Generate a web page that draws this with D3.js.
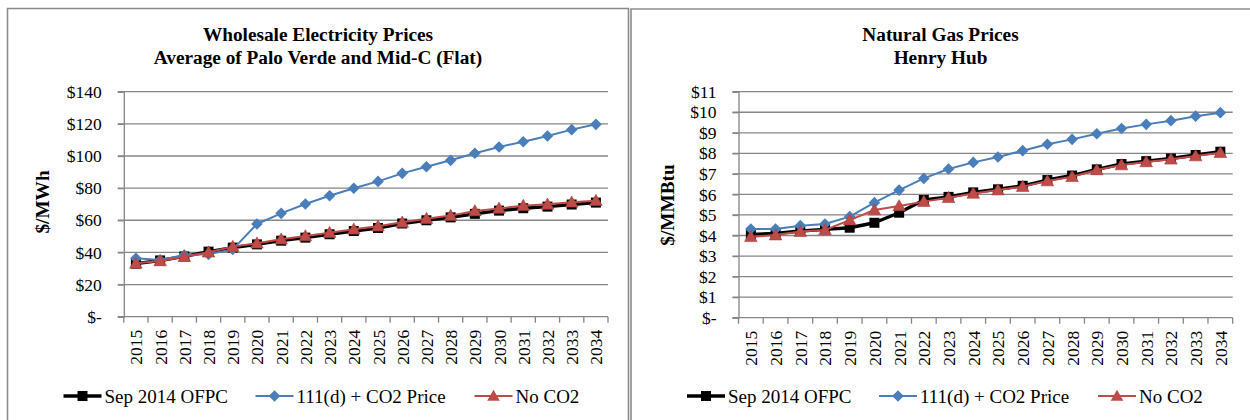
<!DOCTYPE html>
<html>
<head>
<meta charset="utf-8">
<script src="https://cdn.jsdelivr.net/npm/d3@7"></script>
<style>
  html, body { margin: 0; padding: 0; background: #fff; }
  svg { display: block; font-family: "Liberation Serif", "Times New Roman", serif; }
</style>
</head>
<body>
<svg id="chart" width="1250" height="420"></svg>
<script>
// ---------- DATA ----------
const years = ["2015","2016","2017","2018","2019","2020","2021","2022","2023","2024",
               "2025","2026","2027","2028","2029","2030","2031","2032","2033","2034"];
const seriesNames = ["Sep 2014 OFPC", "111(d) + CO2 Price", "No CO2"];

// Wholesale electricity ($/MWh)
const elecOFPC  = [33.0, 35.0, 37.5, 40.5, 43.0, 45.0, 47.3, 49.2, 51.3, 53.3, 55.2, 58.0, 60.0, 61.8, 64.0, 66.0, 67.5, 68.5, 69.8, 71.0];
const elec111d  = [36.3, 35.3, 38.4, 38.8, 41.9, 57.7, 64.3, 70.1, 75.3, 79.9, 84.2, 89.2, 93.3, 97.3, 101.7, 105.6, 108.9, 112.4, 116.4, 119.7];
const elecNoCO2 = [33.2, 34.7, 37.3, 40.1, 43.6, 45.7, 48.2, 50.2, 52.3, 54.4, 56.3, 58.7, 61.0, 62.9, 65.8, 67.4, 69.1, 69.9, 71.2, 72.2];
const elecTicks = [0, 20, 40, 60, 80, 100, 120, 140];

// Henry Hub natural gas ($/MMBtu)
const gasOFPC  = [4.05, 4.10, 4.22, 4.30, 4.38, 4.62, 5.11, 5.73, 5.88, 6.10, 6.25, 6.42, 6.70, 6.92, 7.22, 7.48, 7.62, 7.75, 7.92, 8.08];
const gas111d  = [4.32, 4.32, 4.48, 4.56, 4.92, 5.60, 6.21, 6.78, 7.24, 7.56, 7.82, 8.13, 8.44, 8.68, 8.95, 9.21, 9.41, 9.59, 9.81, 9.98];
const gasNoCO2 = [3.94, 4.02, 4.19, 4.27, 4.75, 5.24, 5.44, 5.65, 5.84, 6.05, 6.21, 6.38, 6.65, 6.86, 7.19, 7.43, 7.58, 7.71, 7.87, 8.03];
const gasTicks = [0, 1, 2, 3, 4, 5, 6, 7, 8, 9, 10, 11];

// ---------- STYLE ----------
const styles = [
  { color: "#000000", width: 3.4, marker: "square" },
  { color: "#4a7ebb", width: 2,   marker: "diamond" },
  { color: "#be4b48", width: 2,   marker: "triangle" }
];
const gridColor = "#868686";
const svg = d3.select("#chart");

function markerPath(type) {
  if (type === "square")  return "M-5,-5H5V5H-5Z";
  if (type === "diamond") return "M0,-5.8L5.8,0L0,5.8L-5.8,0Z";
  return "M0,-6.3L6.3,4.8L-6.3,4.8Z";
}

function drawPanel(cfg) {
  const g = svg.append("g");
  g.append("path")
    .attr("d", `M${cfg.px},420V${cfg.py}H${cfg.pRight}` + (cfg.pRight < 1250 ? `V420` : ""))
    .attr("fill", "none").attr("stroke", "#8a8a8a").attr("stroke-width", 1.6);

  const x = d3.scaleBand().domain(years).range([cfg.x0, cfg.x1]);
  const y = d3.scaleLinear().domain([0, cfg.ymax]).range([cfg.yb, cfg.yt]);

  // gridlines
  g.append("g").selectAll("line").data(cfg.ticks.filter(t => t > 0)).join("line")
    .attr("x1", cfg.x0 - 6).attr("x2", cfg.x1)
    .attr("y1", d => y(d)).attr("y2", d => y(d))
    .attr("stroke", gridColor).attr("stroke-width", 1.3);

  // y axis
  const ya = g.append("g").attr("transform", `translate(${cfg.x0},0)`)
    .call(d3.axisLeft(y).tickValues(cfg.ticks).tickSize(6).tickPadding(16)
      .tickFormat(d => d === 0 ? "$-" : "$" + d));
  ya.attr("font-family", null);
  ya.select(".domain").attr("stroke", gridColor).attr("stroke-width", 1.3);
  ya.selectAll(".tick line").attr("stroke", gridColor).attr("stroke-width", 1.3);
  ya.selectAll(".tick text").attr("font-size", "17.5px").attr("fill", "#000");

  // x axis
  const xa = g.append("g").attr("transform", `translate(0,${cfg.yb})`)
    .call(d3.axisBottom(x).tickSize(0).tickPadding(0));
  xa.select(".domain").remove();
  xa.selectAll(".tick text").remove();
  g.append("line").attr("x1", cfg.x0 - 6).attr("x2", cfg.x1)
    .attr("y1", cfg.yb).attr("y2", cfg.yb)
    .attr("stroke", gridColor).attr("stroke-width", 1.3);
  const bounds = years.map(d => x(d)).concat([cfg.x1]);
  g.append("g").selectAll("line").data(bounds).join("line")
    .attr("x1", d => d).attr("x2", d => d)
    .attr("y1", cfg.yb).attr("y2", cfg.yb + 6)
    .attr("stroke", gridColor).attr("stroke-width", 1.3);
  g.append("g").selectAll("text").data(years).join("text")
    .attr("transform", d => `translate(${x(d) + x.bandwidth() / 2 + 6.5},${cfg.yb + 13}) rotate(-90)`)
    .attr("text-anchor", "end")
    .attr("font-size", "17.5px")
    .text(d => d);

  // series
  const line = d3.line().x((d, i) => x(years[i]) + x.bandwidth() / 2).y(d => y(d));
  cfg.series.forEach((vals, si) => {
    const st = styles[si];
    g.append("path").datum(vals).attr("d", line)
      .attr("fill", "none").attr("stroke", st.color).attr("stroke-width", st.width)
      .attr("stroke-linejoin", "round");
    g.append("g").selectAll("path").data(vals).join("path")
      .attr("transform", (d, i) => `translate(${x(years[i]) + x.bandwidth() / 2},${y(d)})`)
      .attr("d", markerPath(st.marker))
      .attr("fill", st.color)
      .attr("stroke", si === 2 ? "#a8403d" : "none").attr("stroke-width", 0.6);
  });

  // title
  const cx = (cfg.px + cfg.pRight) / 2;
  const t = g.append("text").attr("text-anchor", "middle")
    .attr("font-weight", "bold").attr("font-size", "19.3px");
  t.append("tspan").attr("x", cx).attr("y", 41).text(cfg.title1);
  t.append("tspan").attr("x", cx).attr("y", 63.5).text(cfg.title2);

  // y axis title
  g.append("text")
    .attr("transform", `translate(${cfg.ytx},${cfg.yty}) rotate(-90)`)
    .attr("text-anchor", "middle").attr("font-weight", "bold").attr("font-size", "19.3px")
    .text(cfg.ytitle);

  // legend
  const lx = [56, 248, 467];
  seriesNames.forEach((name, si) => {
    const st = styles[si];
    const x0 = cfg.px + lx[si];
    const ly = 396;
    g.append("line").attr("x1", x0).attr("x2", x0 + 38).attr("y1", ly).attr("y2", ly)
      .attr("stroke", st.color).attr("stroke-width", st.width);
    g.append("path").attr("transform", `translate(${x0 + 19},${ly})`)
      .attr("d", markerPath(st.marker)).attr("fill", st.color);
    g.append("text").attr("x", x0 + 41).attr("y", ly + 6.5)
      .attr("font-size", "19px").text(name);
  });
}

drawPanel({
  px: 7.5, py: 8.5, pRight: 628.5,
  x0: 123.8, x1: 608, yt: 91.7, yb: 316.7, ymax: 140, ticks: elecTicks,
  series: [elecOFPC, elec111d, elecNoCO2],
  title1: "Wholesale Electricity Prices",
  title2: "Average of Palo Verde and Mid-C (Flat)",
  ytitle: "$/MWh", ytx: 49, yty: 202
});

drawPanel({
  px: 631, py: 9, pRight: 1250,
  x0: 738.5, x1: 1232.7, yt: 91.7, yb: 317.7, ymax: 11, ticks: gasTicks,
  series: [gasOFPC, gas111d, gasNoCO2],
  title1: "Natural Gas Prices",
  title2: "Henry Hub",
  ytitle: "$/MMBtu", ytx: 674, yty: 205
});
</script>
</body>
</html>
